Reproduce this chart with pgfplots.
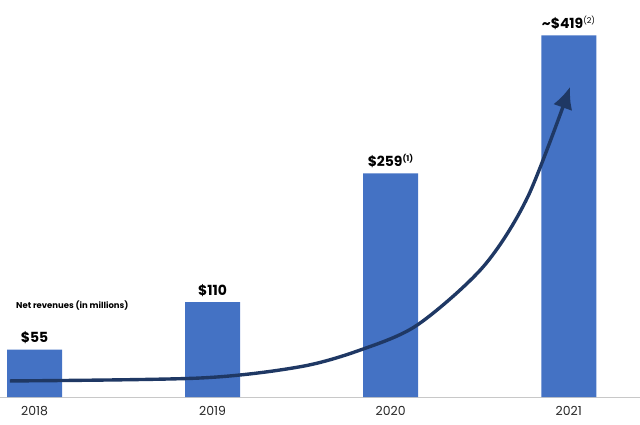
\documentclass[border=0pt]{standalone}
\usepackage{pgfplots}
\pgfplotsset{compat=1.18}
\usepackage{fontspec}
\setmainfont{Poppins}
\usetikzlibrary{arrows.meta}
\definecolor{barblue}{RGB}{68,114,196}
\definecolor{arrownavy}{RGB}{31,56,100}
\definecolor{basegray}{RGB}{200,200,200}
\begin{document}
\begin{tikzpicture}
  \begin{axis}[
      at={(0,0)}, anchor=south west,
      scale only axis,
      width=640bp, height=397bp,
      xmin=-0.194, xmax=3.40,
      ymin=0, ymax=460,
      axis x line=bottom,
      axis y line=none,
      axis line style={basegray, line width=0.8pt, -},
      xtick={0,1,2,3},
      xticklabels={2018,2019,2020,2021},
      major tick length=0pt,
      xticklabel style={font=\fontsize{12.5}{14}\selectfont, text=black!85, yshift=-6bp},
      clip=false,
    ]
    \addplot[ybar, bar width=55bp, fill=barblue, draw=none,
      point meta=explicit symbolic,
      nodes near coords,
      every node near coord/.append style={font=\bfseries\fontsize{14}{16}\selectfont, anchor=south, yshift=2bp}]
      coordinates {
        (0,55) [\$55]
        (1,110) [\$110]
        (2,259) [\$259\textsuperscript{\fontsize{8}{9}\selectfont(1)}]
        (3,419) [\textasciitilde\$419\textsuperscript{\mdseries\fontsize{8}{9}\selectfont(2)}]
      };
    \addplot[smooth, arrownavy, line width=3.4pt,
      -{Latex[length=22bp, width=20bp]}]
      coordinates {
        (-0.138,18.6) (0.93,22) (1.49,35) (1.83,54.5) (2.15,83.5)
        (2.52,151) (2.77,232) (3.008,359.6)
      };
    \node[anchor=base west, font=\bfseries\fontsize{8.5}{10}\selectfont, inner sep=0pt]
      at (axis cs:-0.104,102) {Net revenues (in millions)};
  \end{axis}
  \pgfresetboundingbox
  \path (0,-28bp) rectangle (640bp,397bp);
\end{tikzpicture}
\end{document}
